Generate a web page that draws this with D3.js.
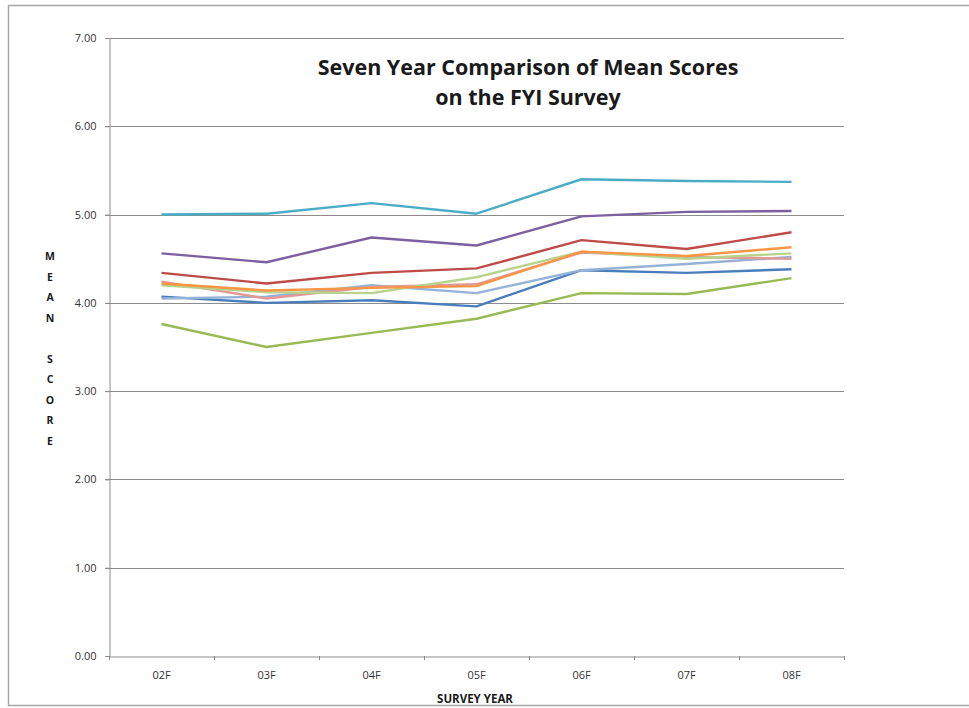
<!DOCTYPE html>
<html>
<head>
<meta charset="utf-8">
<script src="https://cdn.jsdelivr.net/npm/d3@7"></script>
<style>
  body { margin: 0; background: #fff; }
  svg text { font-family: "Open Sans", Lato, sans-serif; }
</style>
</head>
<body>
<div id="chart"></div>
<script>
// survey years on the x axis
const years = ['02F', '03F', '04F', '05F', '06F', '07F', '08F'];
const yTicks = [0, 1, 2, 3, 4, 5, 6, 7];

// one array per scale
const cyanScores = [5.00, 5.01, 5.13, 5.01, 5.40, 5.38, 5.37];
const purpleScores = [4.56, 4.46, 4.74, 4.65, 4.98, 5.03, 5.04];
const redScores = [4.34, 4.22, 4.34, 4.39, 4.71, 4.61, 4.80];
const orangeScores = [4.22, 4.14, 4.17, 4.19, 4.58, 4.53, 4.63];
const lightGreenScores = [4.20, 4.12, 4.11, 4.29, 4.58, 4.50, 4.56];
const pinkScores = [4.24, 4.05, 4.18, 4.21, 4.57, 4.52, 4.50];
const lightBlueScores = [4.05, 4.07, 4.20, 4.11, 4.37, 4.44, 4.52];
const blueScores = [4.07, 4.00, 4.03, 3.96, 4.37, 4.34, 4.38];
const oliveScores = [3.76, 3.50, 3.66, 3.82, 4.11, 4.10, 4.28];

const series = [
  { name: 'olive', values: oliveScores, color: '#98b954' },
  { name: 'blue', values: blueScores, color: '#4a7ebb' },
  { name: 'lightBlue', values: lightBlueScores, color: '#95b3d7' },
  { name: 'pink', values: pinkScores, color: '#e09a97' },
  { name: 'lightGreen', values: lightGreenScores, color: '#b8d48c' },
  { name: 'orange', values: orangeScores, color: '#f79646' },
  { name: 'red', values: redScores, color: '#be4b48' },
  { name: 'purple', values: purpleScores, color: '#7d60a0' },
  { name: 'cyan', values: cyanScores, color: '#4bacc6' }
];

const width = 969, height = 708;
const margin = { top: 38, right: 125, bottom: 52, left: 109 };

const svg = d3.select('#chart').append('svg')
  .attr('width', width)
  .attr('height', height);

// outer frame
svg.append('rect')
  .attr('x', 8.5).attr('y', 5.5)
  .attr('width', width + 10).attr('height', 700)
  .attr('fill', 'none')
  .attr('stroke', '#a6a6a6')
  .attr('stroke-width', 1.5);

const x = d3.scaleBand()
  .domain(years)
  .range([margin.left, width - margin.right]);

const y = d3.scaleLinear()
  .domain([0, 7])
  .range([height - margin.bottom, margin.top]);

// gridlines
svg.append('g')
  .selectAll('line')
  .data(yTicks.filter(d => d > 0))
  .join('line')
  .attr('x1', margin.left - 4)
  .attr('x2', width - margin.right)
  .attr('y1', d => Math.round(y(d)) + 0.5)
  .attr('y2', d => Math.round(y(d)) + 0.5)
  .attr('stroke', '#8c8c8c')
  .attr('stroke-width', 1);

// y axis
const yAxis = svg.append('g')
  .attr('transform', `translate(${margin.left + 0.5},0)`)
  .call(d3.axisLeft(y).tickValues(yTicks).tickFormat(d3.format('.2f')).tickSize(4));
yAxis.select('.domain').attr('stroke', '#8c8c8c');
yAxis.selectAll('.tick line').attr('stroke', '#8c8c8c');
yAxis.selectAll('.tick text')
  .attr('x', -13)
  .attr('fill', '#333')
  .style('font-size', '11px');

// x axis
const xAxis = svg.append('g')
  .attr('transform', `translate(0,${Math.round(height - margin.bottom) + 0.5})`)
  .call(d3.axisBottom(x).tickSize(0));
xAxis.select('.domain').attr('stroke', '#8c8c8c');
xAxis.selectAll('.tick text')
  .attr('dy', '1.75em')
  .attr('fill', '#333')
  .style('font-size', '11px');

// little tick marks between the categories
svg.append('g')
  .selectAll('line')
  .data(years.concat(['end']))
  .join('line')
  .attr('x1', (d, i) => Math.round(margin.left + i * x.step()) + 0.5)
  .attr('x2', (d, i) => Math.round(margin.left + i * x.step()) + 0.5)
  .attr('y1', y(0))
  .attr('y2', y(0) + 4)
  .attr('stroke', '#8c8c8c');

// lines
const line = d3.line()
  .x((d, i) => x(years[i]) + x.bandwidth() / 2)
  .y(d => y(d));

svg.append('g')
  .selectAll('path')
  .data(series)
  .join('path')
  .attr('d', d => line(d.values))
  .attr('fill', 'none')
  .attr('stroke', d => d.color)
  .attr('stroke-width', 2.4)
  .attr('stroke-linejoin', 'round');

// title
const title = svg.append('text')
  .attr('x', 528)
  .attr('y', 75)
  .attr('text-anchor', 'middle')
  .style('font-size', '21.5px')
  .style('font-weight', 'bold')
  .attr('fill', '#1a1a1a');
title.append('tspan').attr('x', 528).text('Seven Year Comparison of Mean Scores');
title.append('tspan').attr('x', 528).attr('dy', 30).text('on the FYI Survey');

// x axis title
svg.append('text')
  .attr('x', 475)
  .attr('y', 703)
  .attr('text-anchor', 'middle')
  .style('font-size', '11.5px')
  .style('font-weight', 'bold')
  .attr('fill', '#1a1a1a')
  .text('SURVEY YEAR');

// y axis title, stacked letters
const yTitle = ['M', 'E', 'A', 'N', '', 'S', 'C', 'O', 'R', 'E'];
svg.append('g')
  .selectAll('text')
  .data(yTitle)
  .join('text')
  .attr('x', 50)
  .attr('y', (d, i) => 260 + i * 20.5)
  .attr('text-anchor', 'middle')
  .style('font-size', '10.5px')
  .style('font-weight', 'bold')
  .attr('fill', '#1a1a1a')
  .text(d => d);
</script>
</body>
</html>
